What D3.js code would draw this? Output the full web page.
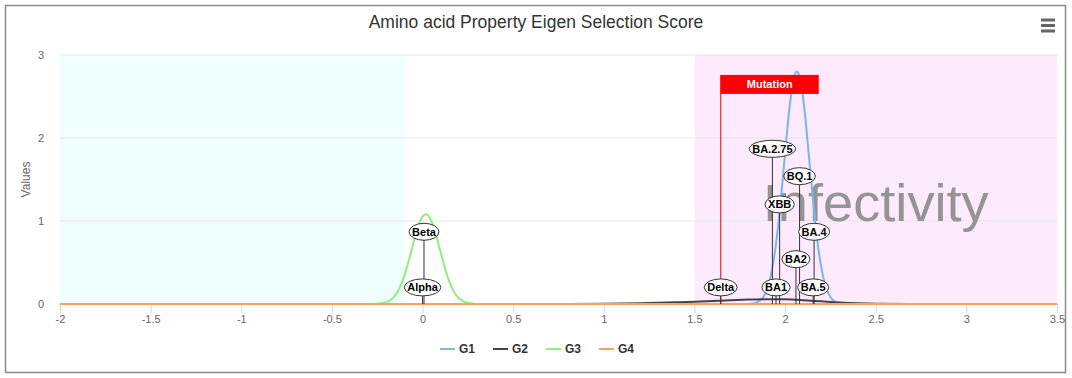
<!DOCTYPE html>
<meta charset="utf-8">
<script src="https://d3js.org/d3.v7.min.js"></script>
<style>
  body { margin: 0; background: #fff; }
  text { font-family: "Liberation Sans", Arial, sans-serif; }
</style>
<div class="canvas"></div>

<script>

    const width = 1072
    const height = 378
    const margin = {"top": 55, "right": 15, "bottom": 74, "left": 60};
    const graphWidth = width - margin.left - margin.right
    const graphHeight = height - margin.top - margin.bottom

    // series (x, value)
    const g1X = [-2, 1.8, 1.85, 1.875, 1.9, 1.925, 1.95, 1.975, 2.0, 2.025, 2.05, 2.065, 2.075, 2.1, 2.125, 2.15, 2.175, 2.2, 2.225, 2.25, 2.275, 2.3, 2.325, 2.35, 3.5]
    const g1Y = [0, 0, 0.025, 0.07, 0.174, 0.379, 0.726, 1.225, 1.819, 2.378, 2.736, 2.8, 2.772, 2.471, 1.94, 1.34, 0.815, 0.436, 0.206, 0.085, 0.031, 0.01, 0.003, 0, 0]

    const g2X = [-2, 0.8, 1.0, 1.2, 1.4, 1.5, 1.6, 1.7, 1.8, 1.9, 2.0, 2.1, 2.2, 2.3, 2.4, 2.5, 2.7, 3.0, 3.5]
    const g2Y = [0, 0, 0.002, 0.008, 0.02, 0.028, 0.037, 0.046, 0.053, 0.058, 0.056, 0.046, 0.032, 0.018, 0.009, 0.004, 0.001, 0, 0]

    const g3X = [-2, -0.3, -0.25, -0.225, -0.2, -0.175, -0.15, -0.125, -0.1, -0.075, -0.05, -0.025, 0, 0.018, 0.025, 0.05, 0.075, 0.1, 0.125, 0.15, 0.175, 0.2, 0.225, 0.25, 0.275, 0.3, 3.5]
    const g3Y = [0, 0, 0.003, 0.008, 0.022, 0.051, 0.106, 0.201, 0.344, 0.53, 0.739, 0.928, 1.052, 1.08, 1.076, 0.993, 0.827, 0.622, 0.422, 0.258, 0.142, 0.071, 0.032, 0.013, 0.005, 0, 0]

    const g4X = [-2, 3.5]
    const g4Y = [0, 0]

    const seriesNames = ["G1", "G2", "G3", "G4"]
    const seriesColors = ["#7cb5ec", "#434348", "#90ed7d", "#f7a35c"]

    // variant labels: x position and label height (values)
    const variantNames = ["Alpha", "Beta", "Delta", "BA1", "BA2", "BA.4", "BA.5", "XBB", "BA.2.75", "BQ.1"]
    const variantX = [0.0, 0.008, 1.645, 1.95, 2.06, 2.16, 2.155, 1.97, 1.93, 2.08]
    const variantLabelY = [0.2, 0.87, 0.2, 0.2, 0.54, 0.87, 0.2, 1.2, 1.87, 1.54]

    const mutationX = 1.645
    const mutationTop = 2.76

    const bands = [[-2, -0.1, "#effffe"], [1.5, 3.5, "#fdeafd"]]
    const xTicks = [-2, -1.5, -1, -0.5, 0, 0.5, 1, 1.5, 2, 2.5, 3, 3.5]
    const yTicks = [0, 1, 2, 3]

    const svg = d3.select(".canvas")
                .append("svg")
                .attr("width", width)
                .attr("height", height)

    // outer frame
    svg.append("rect")
        .attr("x", 5.5).attr("y", 5.5)
        .attr("width", 1060).attr("height", 367)
        .attr("fill", "#fff")
        .attr("stroke", "#8a8a8a")
        .attr("stroke-width", 1.5)

    svg.append("text")
        .attr("x", width / 2)
        .attr("y", 28)
        .attr("text-anchor", "middle")
        .style("font-size", "17.5px")
        .style("fill", "#333")
        .text("Amino acid Property Eigen Selection Score")

    // menu icon
    ;[20, 25.5, 31].forEach(yy => {
        svg.append("rect")
            .attr("x", 1041).attr("y", yy - 1.5)
            .attr("width", 14).attr("height", 3)
            .attr("fill", "#666")
    })

    const x = d3.scaleLinear().domain([-2, 3.5]).range([0, graphWidth])
    const y = d3.scaleLinear().domain([0, 3]).range([graphHeight, 0])

    const graph = svg.append("g")
                    .attr("transform", `translate(${margin.left},${margin.top})`)

    // plot bands
    graph.selectAll(".band").data(bands).enter()
        .append("rect")
        .attr("x", d => x(d[0]))
        .attr("y", 0)
        .attr("width", d => x(d[1]) - x(d[0]))
        .attr("height", graphHeight)
        .attr("fill", d => d[2])

    // grid lines
    graph.selectAll(".grid").data(yTicks.filter(t => t > 0)).enter()
        .append("line")
        .attr("x1", 0).attr("x2", graphWidth)
        .attr("y1", d => y(d)).attr("y2", d => y(d))
        .attr("stroke", "#e6e6e6")

    graph.append("text")
        .attr("x", x(2.5))
        .attr("y", y(1))
        .attr("text-anchor", "middle")
        .attr("textLength", 226)
        .attr("lengthAdjust", "spacingAndGlyphs")
        .style("font-size", "51px")
        .style("fill", "#949494")
        .text("Infectivity")

    // y tick labels
    graph.selectAll(".ylab").data(yTicks).enter()
        .append("text")
        .attr("x", -16)
        .attr("y", d => y(d) + 4)
        .attr("text-anchor", "end")
        .style("font-size", "11px")
        .style("fill", "#666")
        .text(d => d)

    svg.append("text")
        .attr("transform", `translate(30,${margin.top + graphHeight / 2}) rotate(-90)`)
        .attr("text-anchor", "middle")
        .style("font-size", "12px")
        .style("fill", "#666")
        .text("Values")

    // x axis
    const gXAxis = graph.append("g")
                    .attr("transform", `translate(0,${graphHeight})`)
    gXAxis.call(d3.axisBottom(x).tickValues(xTicks).tickFormat(d => String(d)).tickSize(9).tickPadding(2))
    gXAxis.select(".domain").attr("stroke", "#ccd6eb")
    gXAxis.selectAll(".tick line").attr("stroke", "#ccd6eb")
    gXAxis.selectAll("text")
        .style("font-size", "11px")
        .style("fill", "#666")
        .style("font-family", "'Liberation Sans', Arial, sans-serif")

    // series lines
    const seriesData = [
        d3.zip(g1X, g1Y),
        d3.zip(g2X, g2Y),
        d3.zip(g3X, g3Y),
        d3.zip(g4X, g4Y)
    ]
    const line = d3.line()
                .x(d => x(d[0]))
                .y(d => y(d[1]))
                .curve(d3.curveMonotoneX)

    seriesData.forEach((s, i) => {
        graph.append("path")
            .datum(s)
            .attr("d", line)
            .attr("fill", "none")
            .attr("stroke", seriesColors[i])
            .attr("stroke-width", 2)
            .attr("stroke-linejoin", "round")
    })

    // mutation flag
    graph.append("line")
        .attr("x1", x(mutationX)).attr("x2", x(mutationX))
        .attr("y1", y(mutationTop)).attr("y2", y(0))
        .attr("stroke", "#ff0000")
    graph.append("rect")
        .attr("x", x(mutationX))
        .attr("y", y(mutationTop))
        .attr("width", 98)
        .attr("height", 19)
        .attr("fill", "#ff0000")
    graph.append("text")
        .attr("x", x(mutationX) + 49)
        .attr("y", y(mutationTop) + 13.5)
        .attr("text-anchor", "middle")
        .style("font-size", "11px")
        .style("font-weight", "bold")
        .style("fill", "#fff")
        .text("Mutation")

    // variant connectors
    graph.selectAll(".conn").data(variantNames).enter()
        .append("line")
        .attr("x1", (d, i) => x(variantX[i]))
        .attr("x2", (d, i) => x(variantX[i]))
        .attr("y1", (d, i) => y(variantLabelY[i]) + 8)
        .attr("y2", y(0))
        .attr("stroke", "#333")
        .attr("stroke-width", 1)

    // variant labels
    const labels = graph.selectAll(".vlab").data(variantNames).enter()
        .append("g")
        .attr("transform", (d, i) => `translate(${x(variantX[i])},${y(variantLabelY[i])})`)

    const ell = labels.append("ellipse")
        .attr("fill", "#fff")
        .attr("stroke", "#333")
        .attr("stroke-width", 1)
        .attr("ry", 8.5)

    const txt = labels.append("text")
        .attr("text-anchor", "middle")
        .attr("y", 4)
        .style("font-size", "11px")
        .style("font-weight", "bold")
        .style("fill", "#000")
        .text(d => d)

    txt.each(function(d, i) {
        const w = this.getComputedTextLength()
        d3.select(ell.nodes()[i]).attr("rx", w / 2 + 3)
    })

    // legend
    const legend = svg.append("g")
    seriesNames.forEach((name, i) => {
        const lx = 440 + i * 53
        legend.append("line")
            .attr("x1", lx).attr("x2", lx + 15)
            .attr("y1", 349).attr("y2", 349)
            .attr("stroke", seriesColors[i])
            .attr("stroke-width", 2)
        legend.append("text")
            .attr("x", lx + 19)
            .attr("y", 353)
            .style("font-size", "12px")
            .style("font-weight", "bold")
            .style("fill", "#333")
            .text(name)
    })

</script>
